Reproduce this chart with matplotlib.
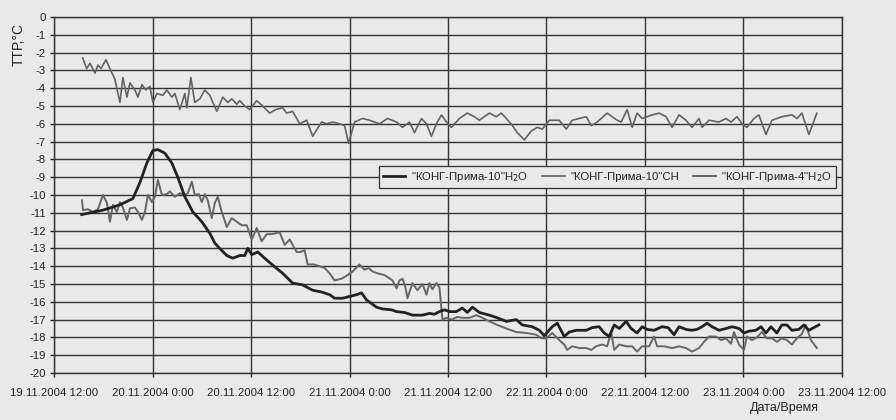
import matplotlib
matplotlib.use("Agg")
import matplotlib.pyplot as plt

plt.rcParams['font.family'] = ['Liberation Sans', 'DejaVu Sans']

# hours since 19.11.2004 12:00
ch_t = [3.49, 3.98, 4.38, 4.99, 5.35, 5.72, 6.33, 6.81, 7.42, 8.03, 8.39, 8.88, 9.25, 9.85, 10.22,
        10.71, 11.19, 11.68, 12.04, 12.53, 13.26, 13.75, 14.35, 14.72, 15.33, 15.94, 16.18, 16.67,
        17.15, 17.76, 18.37, 18.98, 19.83, 20.56, 21.17, 21.65, 22.26, 22.63, 23.24, 23.84, 24.69,
        25.42, 26.28, 27.01, 27.86, 28.34, 29.07, 29.93, 30.78, 31.51, 32.60, 33.21, 33.94, 34.79,
        35.40, 35.89, 36.62, 37.59, 38.44, 39.66, 40.63, 41.73, 42.46, 43.31, 43.92, 44.77, 45.38,
        45.98, 46.59, 47.20, 47.81, 48.42, 49.39, 50.36, 51.21, 51.82, 53.04, 53.89, 54.50, 55.11,
        55.84, 56.45, 57.30, 58.15, 58.88, 59.49, 60.34, 61.55, 62.41, 63.14, 63.99, 64.84, 65.45,
        66.18, 67.39, 68.00, 68.61, 69.10, 69.83, 70.44, 71.04, 71.65, 72.87, 73.72, 74.57, 75.30,
        76.15, 77.00, 77.73, 78.59, 78.95, 79.80, 81.02, 81.87, 82.48, 83.21, 83.82, 84.42, 85.28,
        85.88, 86.74, 87.47, 88.68, 89.90, 90.51, 91.12, 91.97, 92.94]
ch_v = [-2.3, -2.9, -2.6, -3.15, -2.7, -2.9, -2.4, -2.9, -3.5, -4.8, -3.4, -4.5, -3.7, -4.1, -4.5,
        -3.8, -4.1, -3.9, -4.8, -4.3, -4.4, -4.1, -4.5, -4.3, -5.2, -4.3, -5.1, -3.4,
        -4.8, -4.6, -4.1, -4.4, -5.3, -4.5, -4.8, -4.6, -4.9, -4.7, -5.0, -5.2, -4.7,
        -5.0, -5.4, -5.2, -5.1, -5.4, -5.3, -6.0, -5.8, -6.7, -5.9, -6.0, -5.9, -6.0,
        -6.1, -7.1, -5.9, -5.7, -5.8, -6.0, -5.7, -5.9, -6.2, -5.9, -6.5, -5.7, -6.0,
        -6.7, -6.0, -5.5, -5.9, -6.2, -5.7, -5.4, -5.6, -5.8, -5.4, -5.6, -5.4, -5.7,
        -6.1, -6.5, -6.9, -6.4, -6.2, -6.3, -5.8, -5.8, -6.3, -5.8, -5.7, -5.6, -6.1,
        -5.9, -5.4, -5.6, -5.8, -5.9, -5.2, -6.2, -5.4, -5.7, -5.5, -5.4, -5.6, -6.2,
        -5.5, -5.8, -6.2, -5.7, -6.2, -5.8, -5.9, -5.7, -5.9, -5.6, -6.0, -6.2, -5.7,
        -5.5, -6.6, -5.8, -5.6, -5.5, -5.7, -5.4, -6.6, -5.4]

h10_t = [3.37, 5.96, 8.03, 9.61, 10.46, 11.31, 12.04, 12.65, 13.50, 14.35, 15.08, 15.94, 16.91,
         18.00, 18.98, 19.59, 20.19, 21.05, 21.78, 22.63, 23.24, 23.60, 24.09, 24.82, 25.30, 26.28,
         27.86, 29.07, 30.29, 30.90, 31.51, 32.60, 33.58, 34.18, 35.16, 36.01, 36.86, 37.47, 38.08,
         39.29, 40.02, 41.12, 41.73, 42.70, 43.67, 44.89, 45.74, 46.35, 46.96, 47.57, 48.17, 49.02,
         49.75, 50.36, 50.97, 51.82, 53.04, 54.01, 55.11, 56.32, 57.05, 58.27, 59.12, 59.73, 60.70,
         61.31, 62.16, 62.77, 63.62, 64.84, 65.57, 66.42, 67.03, 67.64, 68.25, 68.86, 69.71, 70.31,
         71.04, 71.65, 72.26, 73.11, 74.08, 74.81, 75.54, 76.15, 77.00, 77.73, 78.34, 78.95, 79.56,
         80.17, 81.02, 81.87, 82.60, 83.45, 84.06, 84.67, 85.52, 86.13, 86.74, 87.34, 88.07, 88.68,
         89.29, 89.90, 90.75, 91.36, 91.97, 92.57, 93.18]
h10_v = [-11.1, -10.85, -10.55, -10.2, -9.3, -8.2, -7.5, -7.45, -7.65, -8.2, -9.0, -10.1, -10.95,
         -11.5, -12.15, -12.7, -13.0, -13.4, -13.55, -13.4, -13.4, -13.0, -13.35, -13.2, -13.4, -13.8,
         -14.4, -14.95, -15.05, -15.2, -15.35, -15.45, -15.6, -15.8, -15.8, -15.7, -15.6, -15.5, -15.9,
         -16.3, -16.4, -16.45, -16.55, -16.6, -16.75, -16.75, -16.65, -16.7, -16.55, -16.45, -16.55, -16.55,
         -16.35, -16.6, -16.3, -16.6, -16.75, -16.9, -17.1, -17.0, -17.3, -17.4, -17.6, -17.9, -17.4,
         -17.2, -17.95, -17.7, -17.6, -17.6, -17.45, -17.4, -17.75, -17.95, -17.3, -17.5, -17.1, -17.5,
         -17.75, -17.4, -17.55, -17.6, -17.4, -17.45, -17.85, -17.4, -17.55, -17.6, -17.55, -17.4, -17.2,
         -17.4, -17.6, -17.5, -17.4, -17.5, -17.75, -17.65, -17.6, -17.4, -17.75, -17.4, -17.75, -17.3,
         -17.3, -17.6, -17.55, -17.3, -17.6, -17.45, -17.3]

h4_t = [3.41, 3.53, 4.14, 4.74, 5.35, 5.96, 6.45, 6.81, 7.18, 7.66, 8.03, 8.39, 8.88, 9.25, 9.85,
        10.22, 10.71, 11.07, 11.44, 11.92, 12.29, 12.65, 13.14, 13.75, 14.11, 14.72, 15.33, 15.94,
        16.30, 16.79, 17.15, 17.64, 18.00, 18.37, 18.73, 19.22, 19.59, 19.95, 20.44, 21.05, 21.65,
        22.26, 22.87, 23.48, 24.09, 24.69, 25.30, 25.91, 26.52, 27.49, 28.10, 28.71, 29.56, 30.05,
        30.53, 30.90, 31.63, 32.36, 32.97, 33.58, 34.18, 35.04, 35.77, 36.37, 37.22, 37.83, 38.32,
        38.81, 39.41, 40.27, 41.24, 41.73, 42.09, 42.46, 42.82, 43.06, 43.67, 44.28, 44.89, 45.38,
        45.74, 46.10, 46.59, 46.96, 47.32, 47.81, 48.42, 49.15, 49.75, 50.61, 51.45, 52.19, 53.04,
        54.01, 55.11, 56.32, 57.54, 58.76, 59.37, 59.97, 60.70, 61.55, 62.16, 62.53, 63.14, 63.99,
        64.84, 65.45, 66.05, 66.78, 67.39, 67.88, 68.25, 68.86, 69.71, 70.44, 71.04, 71.65, 72.50,
        73.11, 73.48, 74.33, 75.30, 76.15, 77.00, 77.73, 78.59, 79.19, 79.80, 80.65, 81.26, 81.87,
        82.48, 82.84, 83.45, 84.06, 84.42, 85.03, 85.64, 86.25, 86.86, 87.47, 88.07, 88.68, 89.29,
        89.90, 90.51, 91.12, 91.60, 92.21, 92.94]
h4_v = [-10.3, -10.85, -10.8, -10.95, -10.8, -10.0, -10.45, -11.5, -10.55, -10.95, -10.4, -10.7, -11.4, -10.75, -10.7,
        -10.95, -11.4, -10.95, -10.0, -10.4, -10.1, -9.15, -10.0, -9.95, -9.8, -10.1, -9.9, -10.0,
        -9.9, -9.25, -10.0, -9.95, -10.4, -9.95, -10.3, -11.3, -10.45, -10.1, -10.95, -11.8, -11.3,
        -11.5, -11.7, -11.7, -12.5, -11.85, -12.6, -12.2, -12.2, -12.1, -12.8, -12.5, -13.2, -13.2,
        -13.1, -13.9, -13.9, -14.0, -14.1, -14.4, -14.8, -14.7, -14.5, -14.3, -13.9, -14.2, -14.1,
        -14.3, -14.4, -14.5, -14.8, -15.25, -14.8, -14.7, -15.2, -15.8, -14.95, -15.35, -15.0, -15.6,
        -14.95, -15.3, -14.95, -15.2, -17.0, -16.9, -17.0, -16.85, -16.9, -16.9, -16.75, -16.9, -17.1,
        -17.3, -17.5, -17.7, -17.75, -17.85, -18.05, -18.05, -17.75, -18.15, -18.4, -18.7, -18.5, -18.6,
        -18.6, -18.7, -18.5, -18.4, -18.5, -17.7, -18.7, -18.4, -18.5, -18.5, -18.8, -18.5, -18.5,
        -17.95, -18.5, -18.5, -18.6, -18.5, -18.6, -18.8, -18.6, -18.25, -17.95, -17.95, -18.15, -18.05,
        -18.35, -17.7, -18.4, -18.7, -17.95, -18.15, -18.0, -17.7, -18.05, -18.05, -18.25, -18.05, -18.15,
        -18.4, -18.05, -17.8, -17.3, -18.15, -18.6]

series_labels = ['"КОНГ-Прима-10"H$_2$O', '"КОНГ-Прима-10"CH', '"КОНГ-Прима-4"H$_2$O']
x_ticks = [0, 12, 24, 36, 48, 60, 72, 84, 96]
x_tick_labels = ['19.11.2004 12:00', '20.11.2004 0:00', '20.11.2004 12:00', '21.11.2004 0:00',
                 '21.11.2004 12:00', '22.11.2004 0:00', '22.11.2004 12:00', '23.11.2004 0:00',
                 '23.11.2004 12:00']
y_ticks = list(range(0, -21, -1))

bg = '#e9e9e9'
fig = plt.figure(figsize=(8.96, 4.2), dpi=100, facecolor=bg)
ax = fig.add_axes([0.0603, 0.1119, 0.8794, 0.8476], facecolor=bg)

grid_c = '#333333'
for yv in y_ticks:
    ax.axhline(yv, color=grid_c, lw=1.0, zorder=1)
for xv in x_ticks:
    ax.axvline(xv, color=grid_c, lw=1.0, zorder=1)

ax.plot(h10_t, h10_v, color='#222222', lw=2.0, label=series_labels[0], zorder=4)
ax.plot(ch_t, ch_v, color='#626262', lw=1.2, label=series_labels[1], zorder=3)
ax.plot(h4_t, h4_v, color='#666666', lw=1.4, label=series_labels[2], zorder=3)

ax.set_xlim(0, 96)
ax.set_ylim(-20, 0)
ax.set_xticks(x_ticks)
ax.set_xticklabels(x_tick_labels)
ax.set_yticks(y_ticks)
ax.set_yticklabels([str(v) for v in y_ticks])
ax.tick_params(axis='both', labelsize=8.2, colors='#222222', length=3, width=1.0, pad=3)
ax.tick_params(axis='x', pad=8)
for s in ax.spines.values():
    s.set_color(grid_c)
    s.set_linewidth(1.0)

fig.text(0.021, 0.945, 'ТТР,°С', rotation=90, ha='center', va='top', fontsize=10, color='#222222')
fig.text(0.875, 0.028, 'Дата/Время', ha='center', va='center', fontsize=9, color='#222222')

leg = ax.legend(loc='upper left', bbox_to_anchor=(0.412, 0.582), ncol=3, fontsize=8.2,
                frameon=True, fancybox=False, handlelength=2.0, columnspacing=1.2,
                handletextpad=0.5, borderpad=0.35, borderaxespad=0)
leg.get_frame().set_facecolor(bg)
leg.get_frame().set_edgecolor('#333333')
leg.get_frame().set_linewidth(0.9)
leg.get_frame().set_alpha(1)
for t in leg.get_texts():
    t.set_color('#222222')

fig.savefig('out.png', dpi=100, facecolor=bg)
